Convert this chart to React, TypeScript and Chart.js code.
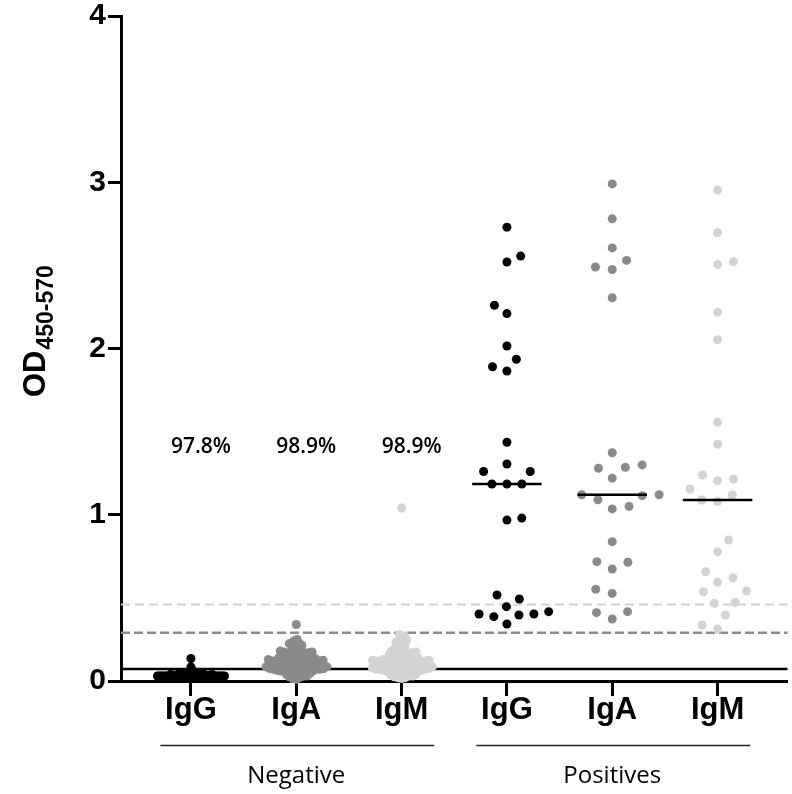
import React, { useEffect, useRef } from 'react';
import { Chart, registerables } from 'chart.js';

Chart.register(...registerables);

// ---------- data ----------
const CATEGORIES = ['IgG', 'IgA', 'IgM', 'IgG', 'IgA', 'IgM'];
const GROUP_NAMES = ['Negative', 'Positives'];
const PERCENT_LABELS = ['97.8%', '98.9%', '98.9%'];
const PERCENT_Y = 1.41;
const Y_TICKS = [0, 1, 2, 3, 4];

const NEG_IGG = [
  0.02, 0.03, 0.025, 0.04, 0.035, 0.03, 0.02, 0.045, 0.03, 0.025,
  0.035, 0.04, 0.02, 0.03, 0.05, 0.025, 0.03, 0.035, 0.04, 0.03,
  0.02, 0.025, 0.03, 0.045, 0.035, 0.03, 0.04, 0.02, 0.03, 0.025,
  0.035, 0.03, 0.05, 0.04, 0.025, 0.03, 0.02, 0.035, 0.03, 0.045,
  0.03, 0.025, 0.04, 0.035, 0.02, 0.03, 0.055, 0.03, 0.025, 0.035,
  0.04, 0.03, 0.02, 0.03, 0.045, 0.025, 0.035, 0.03, 0.04, 0.02,
  0.03, 0.025, 0.035, 0.05, 0.03, 0.04, 0.025, 0.02, 0.035, 0.03,
  0.045, 0.03, 0.025, 0.04, 0.06, 0.03, 0.035, 0.02, 0.025, 0.03,
  0.04, 0.035, 0.03, 0.045, 0.025, 0.03, 0.065, 0.035, 0.085, 0.135,
];
const NEG_IGA = [
  0.02, 0.03, 0.04, 0.045, 0.01, 0.035, 0.05, 0.025, 0.04, 0.015, 0.045, 0.03,
  0.06, 0.07, 0.08, 0.09, 0.065, 0.075, 0.085, 0.095, 0.06, 0.07,
  0.08, 0.09, 0.055, 0.065, 0.075, 0.085, 0.1, 0.06, 0.07, 0.08,
  0.09, 0.1, 0.065, 0.075, 0.085, 0.095, 0.07, 0.08, 0.09, 0.06,
  0.11, 0.12, 0.13, 0.14, 0.105, 0.115, 0.125, 0.135, 0.145, 0.11,
  0.12, 0.13, 0.14, 0.105, 0.115, 0.125, 0.11, 0.12, 0.13, 0.14,
  0.115, 0.125, 0.135, 0.12, 0.13,
  0.16, 0.17, 0.18, 0.19, 0.155, 0.165, 0.175, 0.185, 0.16, 0.17, 0.18, 0.195, 0.165, 0.175,
  0.21, 0.22, 0.23, 0.24, 0.205, 0.215, 0.25, 0.225,
  0.34,
];
const NEG_IGM = [
  0.02, 0.03, 0.04, 0.05, 0.015, 0.035, 0.045, 0.025, 0.04, 0.03, 0.05, 0.02,
  0.06, 0.07, 0.08, 0.09, 0.065, 0.075, 0.085, 0.095, 0.06, 0.07,
  0.08, 0.09, 0.055, 0.065, 0.075, 0.085, 0.1, 0.06, 0.07, 0.08,
  0.09, 0.1, 0.065, 0.075, 0.085, 0.095, 0.07, 0.08, 0.09, 0.06,
  0.11, 0.12, 0.13, 0.14, 0.105, 0.115, 0.125, 0.135, 0.145, 0.11,
  0.12, 0.13, 0.14, 0.105, 0.115, 0.125, 0.11, 0.12, 0.13, 0.15,
  0.115, 0.125, 0.135, 0.12, 0.145,
  0.16, 0.17, 0.18, 0.19, 0.155, 0.165, 0.175, 0.185, 0.16, 0.17, 0.18, 0.2, 0.165,
  0.21, 0.22, 0.23, 0.24, 0.25, 0.26, 0.27, 0.28, 0.235,
  1.04,
];
const POS_IGG = [
  2.73, 2.556, 2.52, 2.26, 2.21, 2.015, 1.935, 1.89, 1.865, 1.436,
  1.305, 1.26, 1.26, 1.185, 1.185, 1.185, 0.968, 0.98, 0.517, 0.493,
  0.447, 0.417, 0.397, 0.403, 0.387, 0.403, 0.343,
];
const POS_IGA = [
  2.99, 2.78, 2.605, 2.53, 2.49, 2.475, 2.305, 1.373, 1.28, 1.285,
  1.3, 1.22, 1.12, 1.12, 1.115, 1.09, 1.035, 1.05, 0.838, 0.718,
  0.714, 0.674, 0.552, 0.527, 0.417, 0.411, 0.373,
];
const POS_IGM = [
  2.953, 2.697, 2.506, 2.522, 2.218, 2.053, 1.556, 1.424, 1.239, 1.205,
  1.215, 1.155, 1.117, 1.089, 1.079, 0.848, 0.778, 0.657, 0.621, 0.594,
  0.541, 0.537, 0.473, 0.467, 0.397, 0.337, 0.313,
];

const CUTOFF_IGG = 0.072;
const CUTOFF_IGA = 0.29;
const CUTOFF_IGM = 0.46;

// ---------- styling ----------
const GROUP_VALUES = [NEG_IGG, NEG_IGA, NEG_IGM, POS_IGG, POS_IGA, POS_IGM];
const COLORS = ['#000000', '#8a8a8a', '#d3d3d3', '#000000', '#8a8a8a', '#d3d3d3'];
const SWARM_DIAM = [1.7, 3.8, 3.8, 15, 17, 16];
const X_MIN = -0.664;
const X_MAX = 5.664;
const PX_PER_Y = 166.25;
const PX_PER_X = 105.4;

function median(arr: number[]): number {
  const s = [...arr].sort((a, b) => a - b);
  const m = Math.floor(s.length / 2);
  return s.length % 2 ? s[m] : (s[m - 1] + s[m]) / 2;
}

// deterministic beeswarm layout: offset each point horizontally to avoid overlap
function swarmOffsets(values: number[], diam: number): number[] {
  const order = values.map((_, i) => i).sort((a, b) => values[a] - values[b]);
  const placed: { x: number; y: number }[] = [];
  const out = new Array(values.length).fill(0);
  let flip = -1;
  for (const idx of order) {
    const y = values[idx] * PX_PER_Y;
    const intervals: [number, number][] = [];
    for (const p of placed) {
      const dy = Math.abs(p.y - y);
      if (dy < diam) {
        const h = Math.sqrt(diam * diam - dy * dy);
        intervals.push([p.x - h, p.x + h]);
      }
    }
    const cands = [0];
    for (const [a, b] of intervals) cands.push(a, b);
    const ok = (x: number) => intervals.every(([a, b]) => x <= a + 1e-6 || x >= b - 1e-6);
    let best = Infinity;
    let bestX = 0;
    for (const c of cands) {
      if (!ok(c)) continue;
      const score = Math.abs(c) + (Math.sign(c) === flip ? 0 : 1e-3);
      if (score < best) {
        best = score;
        bestX = c;
      }
    }
    if (bestX !== 0) flip = -Math.sign(bestX);
    placed.push({ x: bestX, y });
    out[idx] = bestX / PX_PER_X;
  }
  return out;
}

const annotPlugin = {
  id: 'annot',
  afterDraw(chart: any) {
    const ctx = chart.ctx as CanvasRenderingContext2D;
    const xs = chart.scales.x;
    const ys = chart.scales.y;
    ctx.save();
    // percentages
    ctx.fillStyle = '#000';
    ctx.font = '600 21px "Open Sans"';
    ctx.textAlign = 'center';
    ctx.textBaseline = 'middle';
    PERCENT_LABELS.forEach((t, i) => {
      ctx.fillText(t, xs.getPixelForValue(i) + 10, ys.getPixelForValue(PERCENT_Y));
    });
    // group brackets
    ctx.strokeStyle = '#222';
    ctx.lineWidth = 1.3;
    GROUP_NAMES.forEach((name, g) => {
      const c = g * 3 + 1;
      const x1 = xs.getPixelForValue(c - 1.29);
      const x2 = xs.getPixelForValue(c + 1.31);
      ctx.beginPath();
      ctx.moveTo(x1, 745.5);
      ctx.lineTo(x2, 745.5);
      ctx.stroke();
      ctx.font = '24px "Open Sans"';
      ctx.fillStyle = '#000';
      ctx.fillText(name, xs.getPixelForValue(c), 776);
    });
    // y title with subscript
    ctx.translate(45, 397);
    ctx.rotate(-Math.PI / 2);
    ctx.textAlign = 'left';
    ctx.textBaseline = 'alphabetic';
    ctx.fillStyle = '#000';
    ctx.font = 'bold 31px "Liberation Sans"';
    ctx.fillText('OD', 0, 0);
    const w = ctx.measureText('OD').width;
    ctx.font = 'bold 23px "Liberation Sans"';
    ctx.fillText('450-570', w + 1, 8);
    ctx.restore();
  },
};

export default function App() {
  const ref = useRef<HTMLCanvasElement | null>(null);
  useEffect(() => {
    if (!ref.current) return;
    const datasets: any[] = [];
    // cut-off lines (behind points)
    const cutoffs = [
      { v: CUTOFF_IGM, color: '#d0d0d0', dash: [9, 5], w: 2 },
      { v: CUTOFF_IGA, color: '#8c8c8c', dash: [9, 4], w: 2.5 },
      { v: CUTOFF_IGG, color: '#000000', dash: [], w: 2.5 },
    ];
    cutoffs.forEach((c) => {
      datasets.push({
        type: 'line',
        data: [
          { x: X_MIN, y: c.v },
          { x: X_MAX, y: c.v },
        ],
        borderColor: c.color,
        borderWidth: c.w,
        borderDash: c.dash,
        pointRadius: 0,
        showLine: true,
        order: 3,
        clip: false,
      });
    });
    GROUP_VALUES.forEach((vals, g) => {
      const offs = swarmOffsets(vals, SWARM_DIAM[g]);
      datasets.push({
        type: 'scatter',
        data: vals.map((v, i) => ({ x: g + offs[i], y: v })),
        backgroundColor: COLORS[g],
        borderWidth: 0,
        pointRadius: 4.5,
        order: 2,
        clip: false,
      });
    });
    [3, 4, 5].forEach((g) => {
      const m = median(GROUP_VALUES[g]);
      datasets.push({
        type: 'line',
        data: [
          { x: g - 0.33, y: m },
          { x: g + 0.33, y: m },
        ],
        borderColor: '#000',
        borderWidth: 2.5,
        pointRadius: 0,
        showLine: true,
        order: 1,
        clip: false,
      });
    });

    const chart = new Chart(ref.current, {
      type: 'scatter',
      data: { datasets },
      plugins: [annotPlugin],
      options: {
        animation: false,
        responsive: false,
        devicePixelRatio: 1,
        events: [],
        layout: { padding: { top: 16, right: 4, bottom: 0, left: 0 } },
        plugins: { legend: { display: false }, tooltip: { enabled: false } },
        scales: {
          x: {
            type: 'linear',
            min: X_MIN,
            max: X_MAX,
            afterBuildTicks: (s: any) => {
              s.ticks = CATEGORIES.map((_, i) => ({ value: i }));
            },
            ticks: {
              callback: (v: any) => CATEGORIES[v as number],
              font: { family: '"Liberation Sans", Arial', weight: 'bold', size: 31 },
              color: '#000',
              padding: -4,
              autoSkip: false,
              maxRotation: 0,
            },
            grid: {
              display: true,
              drawOnChartArea: false,
              drawTicks: true,
              tickLength: 15,
              tickWidth: 3,
              tickColor: '#000',
            },
            border: { display: true, color: '#000', width: 3 },
            afterFit: (s: any) => {
              s.height = 113;
              s.paddingLeft = 0;
              s.paddingRight = 0;
            },
          },
          y: {
            type: 'linear',
            min: 0,
            max: 4,
            afterBuildTicks: (s: any) => {
              s.ticks = Y_TICKS.map((v) => ({ value: v }));
            },
            ticks: {
              font: { family: '"Liberation Sans", Arial', weight: 'bold', size: 30 },
              color: '#000',
              padding: 2,
            },
            grid: {
              display: true,
              drawOnChartArea: false,
              drawTicks: true,
              tickLength: 13,
              tickWidth: 3,
              tickColor: '#000',
            },
            border: { display: true, color: '#000', width: 3 },
            afterFit: (s: any) => {
              s.width = 121;
              s.paddingTop = 0;
              s.paddingBottom = 0;
            },
          },
        },
      } as any,
    });
    return () => chart.destroy();
  }, []);

  return (
    <div style={{ position: 'absolute', left: 0, top: 0, width: 792, height: 794, background: '#fff' }}>
      <canvas ref={ref} width={792} height={794} />
    </div>
  );
}
